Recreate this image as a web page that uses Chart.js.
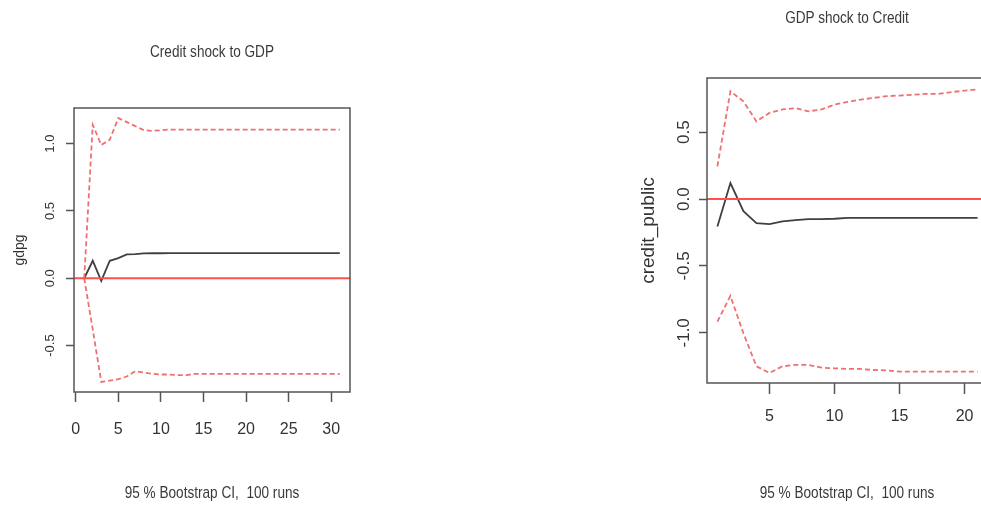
<!DOCTYPE html>
<html>
<head>
<meta charset="utf-8">
<script src="https://cdn.jsdelivr.net/npm/chart.js@4.4.1/dist/chart.umd.min.js"></script>
<style>
  html, body { margin: 0; padding: 0; background: #fff; overflow: hidden; width: 981px; height: 506px; }
  canvas { position: absolute; top: 0; }
  #leftChart { left: 0; }
  #rightChart { left: 600px; }
  .txt { position: absolute; font-family: 'Liberation Sans', Arial, sans-serif; font-size: 17px; color: #3a3a3a; white-space: pre; transform: translate(-50%, -50%) scaleX(0.8); }
</style>
</head>
<body>
<canvas id="leftChart" width="400" height="506"></canvas>
<canvas id="rightChart" width="400" height="506"></canvas>
<div class="txt" style="left:212px; top:52px;">Credit shock to GDP</div>
<div class="txt" style="left:847px; top:18px;">GDP shock to Credit</div>
<div class="txt" style="left:212px; top:493px;">95 % Bootstrap CI,  100 runs</div>
<div class="txt" style="left:847px; top:493px;">95 % Bootstrap CI,  100 runs</div>
<script>
// Credit shock to GDP (horizon 1..31)
var gdpSteps = [];
for (var i = 1; i <= 31; i++) gdpSteps.push(i);
var gdpIrf   = [0.00, 0.13, -0.02, 0.13, 0.15, 0.178, 0.18, 0.185, 0.186, 0.186, 0.187, 0.187, 0.187, 0.187, 0.187, 0.187,
                0.187, 0.187, 0.187, 0.187, 0.187, 0.187, 0.187, 0.187, 0.187, 0.187, 0.187, 0.187, 0.187, 0.187, 0.187];
var gdpUpper = [0.00, 1.14, 0.99, 1.03, 1.19, 1.16, 1.13, 1.10, 1.095, 1.10, 1.105, 1.105, 1.105, 1.105, 1.105, 1.105,
                1.105, 1.105, 1.105, 1.105, 1.105, 1.105, 1.105, 1.105, 1.105, 1.105, 1.105, 1.105, 1.105, 1.105, 1.105];
var gdpLower = [0.00, -0.38, -0.77, -0.76, -0.75, -0.73, -0.69, -0.70, -0.71, -0.715, -0.715, -0.72, -0.72, -0.71, -0.71, -0.71,
                -0.71, -0.71, -0.71, -0.71, -0.71, -0.71, -0.71, -0.71, -0.71, -0.71, -0.71, -0.71, -0.71, -0.71, -0.71];
var gdpXTicks = [0, 5, 10, 15, 20, 25, 30];
var gdpYTicks = [-0.5, 0.0, 0.5, 1.0];
var gdpXRange = [-0.2, 32.2];
var gdpYRange = [-0.845, 1.265];

// GDP shock to Credit (horizon 1..21)
var creditSteps = [];
for (var j = 1; j <= 21; j++) creditSteps.push(j);
var creditIrf   = [-0.205, 0.12, -0.09, -0.18, -0.187, -0.167, -0.157, -0.15, -0.15, -0.147, -0.14,
                   -0.14, -0.14, -0.14, -0.14, -0.14, -0.14, -0.14, -0.14, -0.14, -0.14];
var creditUpper = [0.245, 0.806, 0.73, 0.58, 0.644, 0.67, 0.68, 0.656, 0.67, 0.706, 0.726,
                   0.744, 0.756, 0.769, 0.774, 0.78, 0.786, 0.786, 0.80, 0.81, 0.82];
var creditLower = [-0.916, -0.724, -1.003, -1.25, -1.30, -1.25, -1.24, -1.24, -1.26, -1.265, -1.27,
                   -1.27, -1.278, -1.28, -1.29, -1.29, -1.29, -1.29, -1.29, -1.29, -1.29];
var creditXTicks = [5, 10, 15, 20];
var creditYTicks = [-1.0, -0.5, 0.0, 0.5];
var creditXRange = [0.2, 21.8];
var creditYRange = [-1.375, 0.905];

var plain = "'Liberation Sans', Arial, sans-serif";

function pts(xs, ys) {
    return xs.map(function(x, k){ return {x: x, y: ys[k]}; });
}

// R style box around the plot region
var boxPlugin = {
    id: 'box',
    afterDraw: function(chart) {
        var a = chart.chartArea, c = chart.ctx;
        c.save();
        c.strokeStyle = '#555';
        c.lineWidth = 1.5;
        c.strokeRect(a.left, a.top, a.right - a.left, a.bottom - a.top);
        c.restore();
    }
};

function makeChart(id, cfg) {
    var datasets = [
        { data: [{x: cfg.xRange[0], y: 0}, {x: cfg.xRange[1], y: 0}], borderColor: '#ff5050', borderWidth: 2 },
        { data: pts(cfg.steps, cfg.upper), borderColor: '#f07070', borderWidth: 1.8, borderDash: [5, 3] },
        { data: pts(cfg.steps, cfg.lower), borderColor: '#f07070', borderWidth: 1.8, borderDash: [5, 3] },
        { data: pts(cfg.steps, cfg.irf), borderColor: '#404040', borderWidth: 1.8 }
    ];
    return new Chart(document.getElementById(id).getContext('2d'), {
        type: 'line',
        data: { datasets: datasets },
        plugins: [boxPlugin],
        options: {
            responsive: false,
            animation: false,
            layout: { padding: cfg.padding },
            elements: { point: { radius: 0 }, line: { tension: 0 } },
            plugins: { legend: { display: false }, tooltip: { enabled: false } },
            scales: {
                x: {
                    type: 'linear',
                    min: cfg.xRange[0], max: cfg.xRange[1],
                    afterBuildTicks: function(s){ s.ticks = cfg.xTicks.map(function(v){ return {value: v}; }); },
                    afterFit: function(s){ s.height = cfg.xHeight; },
                    grid: { drawOnChartArea: false, drawTicks: true, tickLength: cfg.xTickLen, tickColor: '#555', tickWidth: 1.5 },
                    border: { display: false },
                    ticks: { autoSkip: false, maxRotation: 0, padding: cfg.xPad, color: '#333',
                             font: { family: plain, size: cfg.xFont },
                             callback: function(v){ return String(v); } }
                },
                y: {
                    type: 'linear',
                    min: cfg.yRange[0], max: cfg.yRange[1],
                    afterBuildTicks: function(s){ s.ticks = cfg.yTicks.map(function(v){ return {value: v}; }); },
                    afterFit: function(s){ s.width = cfg.yWidth; },
                    grid: { drawOnChartArea: false, drawTicks: true, tickLength: 8, tickColor: '#555', tickWidth: 1.5 },
                    border: { display: false },
                    title: { display: true, text: cfg.yTitle, color: '#333', padding: { top: cfg.yTitlePad, bottom: 0 },
                             font: { family: plain, size: cfg.yTitleSize } },
                    ticks: { autoSkip: false, minRotation: 90, maxRotation: 90, crossAlign: 'center',
                             padding: cfg.yPad, color: '#333',
                             font: { family: plain, size: cfg.yFont },
                             callback: function(v){ return v.toFixed(1); } }
                }
            }
        }
    });
}

makeChart('leftChart', {
    steps: gdpSteps, irf: gdpIrf, upper: gdpUpper, lower: gdpLower,
    xTicks: gdpXTicks, yTicks: gdpYTicks, xRange: gdpXRange, yRange: gdpYRange,
    padding: { left: 0, top: 108, right: 50, bottom: 0 },
    xHeight: 114, yWidth: 74, xTickLen: 10, xPad: 18, xFont: 16,
    yPad: 4, yFont: 13,
    yTitle: 'gdpg', yTitlePad: 12, yTitleSize: 14
});

makeChart('rightChart', {
    steps: creditSteps, irf: creditIrf, upper: creditUpper, lower: creditLower,
    xTicks: creditXTicks, yTicks: creditYTicks, xRange: creditXRange, yRange: creditYRange,
    padding: { left: 0, top: 78, right: 12, bottom: 0 },
    xHeight: 123, yWidth: 107, xTickLen: 11, xPad: 13, xFont: 16,
    yPad: 0, yFont: 17,
    yTitle: 'credit_public', yTitlePad: 37, yTitleSize: 19
});
</script>
</body>
</html>
